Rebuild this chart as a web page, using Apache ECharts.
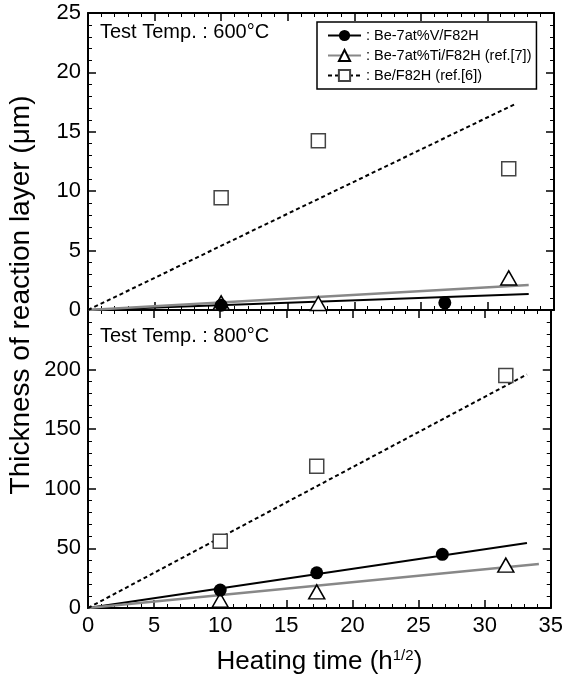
<!DOCTYPE html>
<html>
<head>
<meta charset="utf-8">
<script src="https://cdn.jsdelivr.net/npm/echarts@6/dist/echarts.min.js"></script>
<style>html,body{margin:0;padding:0;background:#fff}#c{width:566px;height:676px}</style>
</head>
<body>
<div id="c"></div>
<script>
// ---- Data (x = heating time in h^1/2, y = thickness in µm) ----
var nameV = 'Be-7at%V/F82H';
var nameTi = 'Be-7at%Ti/F82H (ref.[7])';
var nameBe = 'Be/F82H (ref.[6])';

// 600 °C panel
var v600 = [[10, 0.4], [26.8, 0.6]];
var ti600 = [[10, 0.6], [17.3, 0.55], [31.6, 2.7]];
var be600 = [[10, 9.45], [17.3, 14.25], [31.6, 11.9]];
var fitV600 = [[0, 0], [33.1, 1.35]];
var fitTi600 = [[0, 0], [33.1, 2.1]];
var fitBe600 = [[0, 0], [32.2, 17.4]];

// 800 °C panel
var v800 = [[10, 15], [17.3, 29.5], [26.8, 45]];
var ti800 = [[10, 6.5], [17.3, 13.5], [31.6, 36]];
var be800 = [[10, 56], [17.3, 119], [31.6, 195]];
var fitV800 = [[0, 0], [33.2, 54.5]];
var fitTi800 = [[0, 0], [34.1, 37]];
var fitBe800 = [[0, 0], [33.2, 196]];

var xTicks = {min: 0, max: 35, interval: 5};
var yTicks600 = {min: 0, max: 25, interval: 5};
var yTicks800 = {min: 0, max: 250, interval: 50};

var FONT = 'Liberation Sans';

function axisCommon(showLabel) {
  return {
    axisLine: {show: true, onZero: false, lineStyle: {color: '#000', width: 2}},
    axisTick: {show: true, inside: true, length: 8, lineStyle: {color: '#000', width: 1.5}},
    minorTick: {show: true, splitNumber: 5, length: 4, lineStyle: {color: '#000', width: 1}},
    splitLine: {show: false},
    axisLabel: {show: showLabel, color: '#000', fontSize: 22, fontFamily: FONT, margin: 7}
  };
}
function mkX(grid, pos, showLabel, extra) {
  return Object.assign({type: 'value', gridIndex: grid, position: pos,
    min: xTicks.min, max: xTicks.max, interval: xTicks.interval}, axisCommon(showLabel), extra || {});
}
function mkY(grid, pos, showLabel, t, extra) {
  return Object.assign({type: 'value', gridIndex: grid, position: pos,
    min: t.min, max: t.max, interval: t.interval}, axisCommon(showLabel), extra || {});
}

var xAxes = [
  mkX(0, 'bottom', false),
  mkX(0, 'top', false),
  mkX(1, 'bottom', true, {
    name: 'Heating time (h{sup|1/2})', nameLocation: 'middle', nameGap: 40,
    nameTextStyle: {color: '#000', fontSize: 26, fontFamily: FONT,
      rich: {sup: {fontSize: 15, fontFamily: FONT, color: '#000', padding: [0, 0, 13, 0]}}}
  }),
  mkX(1, 'top', false)
];
var yAxes = [
  mkY(0, 'left', true, yTicks600),
  mkY(0, 'right', false, yTicks600),
  mkY(1, 'left', true, yTicks800),
  mkY(1, 'right', false, yTicks800)
];
yAxes[2].axisLabel.formatter = function (v) { return v === 250 ? '' : String(v); };

function fitLine(name, data, xi, yi, lineStyle, symbol, color) {
  return {type: 'line', name: name, data: data, xAxisIndex: xi, yAxisIndex: yi,
    symbol: symbol, showSymbol: false, lineStyle: lineStyle, itemStyle: {color: color},
    z: 2, silent: true};
}
function pts(name, data, xi, yi, symbol, size, itemStyle) {
  return {type: 'scatter', name: name, data: data, xAxisIndex: xi, yAxisIndex: yi,
    symbol: symbol, symbolSize: size, itemStyle: itemStyle, z: 5};
}
var lsV = {color: '#000', width: 2};
var lsTi = {color: '#888', width: 2.5};
var lsBe = {color: '#000', width: 2, type: [4, 3]};
var stV = {color: '#000', opacity: 1};
var stTi = {color: '#fff', borderColor: '#000', borderWidth: 1.5, opacity: 1};
var stBe = {color: '#fff', borderColor: '#444', borderWidth: 1.5, opacity: 1};

var series = [
  fitLine(nameV, fitV600, 0, 0, lsV, 'circle', '#000'),
  fitLine(nameTi, fitTi600, 0, 0, lsTi, 'emptyTriangle', '#000'),
  fitLine(nameBe, fitBe600, 0, 0, lsBe, 'emptyRect', '#444'),
  fitLine(nameV, fitV800, 2, 2, lsV, 'circle', '#000'),
  fitLine(nameTi, fitTi800, 2, 2, lsTi, 'emptyTriangle', '#000'),
  fitLine(nameBe, fitBe800, 2, 2, lsBe, 'emptyRect', '#444'),
  pts(nameBe, be600, 0, 0, 'rect', 14, stBe),
  pts(nameTi, ti600, 0, 0, 'triangle', [16, 14], stTi),
  pts(nameV, v600, 0, 0, 'circle', 13, stV),
  pts(nameBe, be800, 2, 2, 'rect', 14, stBe),
  pts(nameTi, ti800, 2, 2, 'triangle', [16, 14], stTi),
  pts(nameV, v800, 2, 2, 'circle', 13, stV)
];

var chart = echarts.init(document.getElementById('c'), null, {renderer: 'canvas'});
chart.setOption({
  animation: false,
  backgroundColor: '#fff',
  grid: [
    {left: 88, right: 12, top: 13, height: 297},
    {left: 88, right: 12, top: 310, height: 298}
  ],
  xAxis: xAxes,
  yAxis: yAxes,
  legend: {
    data: [nameV, nameTi, nameBe],
    orient: 'vertical', left: 317, top: 22,
    itemWidth: 33, itemHeight: 14, itemGap: 5,
    padding: [6, 5, 6, 10],
    borderColor: '#000', borderWidth: 1.5, backgroundColor: '#fff',
    formatter: function (n) { return ': ' + n; },
    textStyle: {color: '#000', fontSize: 14.5, fontFamily: FONT}
  },
  graphic: [
    {type: 'text', x: 21, y: 295, rotation: Math.PI / 2,
      style: {text: 'Thickness of reaction layer (\u03bcm)', fontSize: 28, fontFamily: FONT,
        fill: '#000', align: 'center', verticalAlign: 'middle'}},
    {type: 'text', left: 100, top: 22,
      style: {text: 'Test Temp. : 600\u00b0C', fontSize: 20, fontFamily: FONT, fill: '#000'}},
    {type: 'text', left: 100, top: 326,
      style: {text: 'Test Temp. : 800\u00b0C', fontSize: 20, fontFamily: FONT, fill: '#000'}}
  ],
  series: series
});
</script>
</body>
</html>
